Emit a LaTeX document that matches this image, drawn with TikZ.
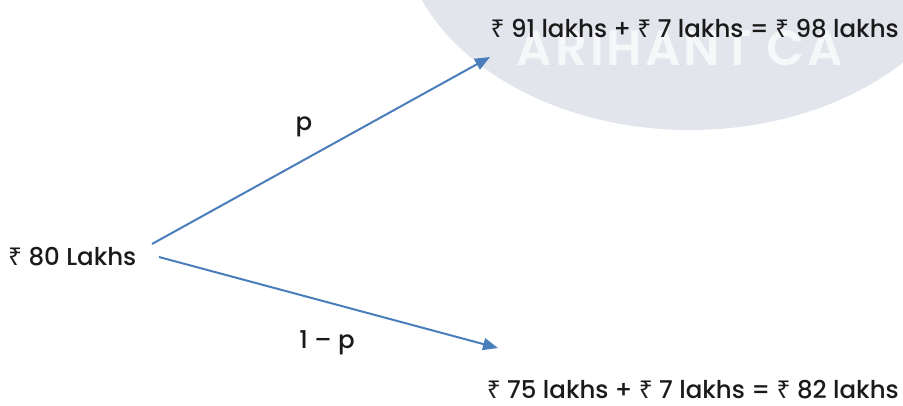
\documentclass[tikz,border=0pt]{standalone}
\usepackage{fontspec}
\setmainfont{Poppins}[UprightFont=* Medium]
\newfontfamily\wmfont{Poppins}[UprightFont=* SemiBold, LetterSpace=6]
\newfontfamily\rupfont{Noto Sans}
\newcommand{\Rs}{{\rupfont ₹}}
\usetikzlibrary{arrows.meta}
\definecolor{wmgray}{HTML}{E3E5EC}
\definecolor{wmtext}{HTML}{F6F7F9}
\definecolor{arrowblue}{HTML}{4A7EBB}
\definecolor{txt}{HTML}{1A1A1A}
\tikzset{
  lbl/.style={font=\fontsize{24.5}{28}\selectfont, text=txt, inner sep=0pt},
  branch/.style={draw=arrowblue, line width=2pt, -{Triangle[length=15pt,width=12pt]}}
}
\begin{document}
\begin{tikzpicture}[x=1pt,y=-1pt]
\useasboundingbox (0,0) rectangle (903,405);
% watermark
\begin{scope}
\clip (0,0) rectangle (903,405);
\fill[wmgray] (690,-80) ellipse [x radius=290, y radius=210];
\end{scope}
\node[anchor=base, inner sep=0pt, text=wmtext, font=\wmfont\fontsize{36}{38}\selectfont] (wm) at (680,65) {\resizebox{326pt}{!}{ARIHANT CA}};
% texts
\node[lbl, anchor=base west] (start) at (8,265) {\Rs\ 80 Lakhs};
\node[lbl, anchor=base east] (up) at (899,37) {\Rs\ 91 lakhs + \Rs\ 7 lakhs = \Rs\ 98 lakhs};
\node[lbl, anchor=base east] (down) at (899,398) {\Rs\ 75 lakhs + \Rs\ 7 lakhs = \Rs\ 82 lakhs};
\node[lbl, anchor=base] (p) at (304,130) {p};
\node[lbl, anchor=base] (q) at (327,348) {1 – p};
% connectors
\coordinate (s1) at (152,244);
\coordinate (s2) at (159,257);
\coordinate (e1) at (490,57);
\coordinate (e2) at (498,348);
\draw[branch] (s1) -- (e1);
\draw[branch] (s2) -- (e2);
\end{tikzpicture}
\end{document}
